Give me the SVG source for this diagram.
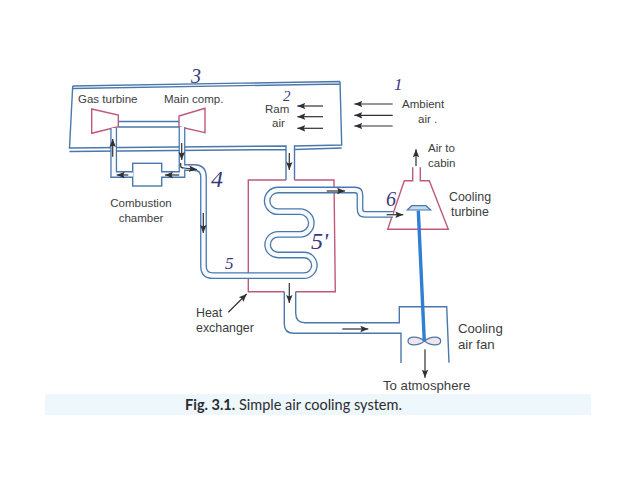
<svg xmlns="http://www.w3.org/2000/svg" width="638" height="478" viewBox="0 0 638 478">
<style>
.l{font-family:"Liberation Sans",Arial,sans-serif;font-size:11.5px;fill:#3c3c3e}
.g{font-size:12.4px}
.t{font-size:13.2px}
.m{text-anchor:middle}
.h{font-family:"Liberation Serif",serif;font-style:italic;fill:#38387e}
.cap{font-family:"Lato","Open Sans",sans-serif;font-size:14.5px;fill:#2c2c30}
.r{fill:none;stroke:#c0587c;stroke-width:1.4}
.b{fill:none;stroke:#4a78ac;stroke-width:1.4}
.po{fill:none;stroke:#4a78ac;stroke-width:6.8}
.pi{fill:none;stroke:#f8fbfd;stroke-width:4.2}
.a{fill:none;stroke:#303034;stroke-width:1.2;marker-end:url(#ah)}
</style>
<defs>
<marker id="ah" markerUnits="userSpaceOnUse" markerWidth="9" markerHeight="8" refX="8" refY="4" orient="auto"><path d="M0,0.8 L8,4 L0,7.2 L1.5,4 Z" fill="#303034"/></marker>
<path id="serp" d="M393,214.3 H365 Q360,214.3 360,209 V195 Q360,190 355,190 H278 A10.85,10.85 0 0 0 278,211.7 H300 A11.3,11.3 0 0 1 300,234.3 H278 A10.35,10.35 0 0 0 278,255 H304 A10.35,10.35 0 0 1 304,275.7 H213 Q203.5,275.7 203.5,266 V177 Q203.5,167.5 194,167.5 H182"/>
<path id="loop" d="M182,127 V174.5 H161 M113.7,128 V174.5 H133"/>
</defs>
<rect width="638" height="478" fill="#fff"/>
<rect x="45" y="394" width="546" height="21" fill="#eef7fb"/>

<g id="duct">
<path class="b" d="M72.7,86 L340,81.5 M72.7,88.5 L340,84 M340,81.5 L341.7,145 L294.5,146 V180 M72.7,86 L69.5,148 L286,146 V180 M69.5,151.5 L286,149.5 M294.5,149.5 L341.7,148"/>
</g>
<g id="gas-turbine"><polygon class="r" points="91.7,109 118.3,115 118.3,126.7 91.7,133.3"/></g>
<g id="main-compressor"><polygon class="r" points="179,116 205,108.3 205,132.7 179,126.7"/></g>
<g id="shaft"><path class="b" d="M118.3,121.5 H179 M118.3,127 H179"/></g>
<g id="heat-exchanger"><path class="r" d="M286,180 H248.3 V291.7 H284.3 M294.5,180 H334 L335.3,291.7 H295.7"/></g>
<g id="cooling-turbine"><path class="r" d="M412.7,167.3 V180.7 H404.3 L387.7,229.3 H448.3 L429.3,180.7 H420.3 V167.3"/><path d="M411.7,205.7 H426 L430.7,210 H407.3 Z" fill="#c4dcee" stroke="#4a78ac" stroke-width="1.2"/></g>
<g id="cooling-fan">
<path class="b" d="M284.3,291.7 V324 Q284.3,333.3 294,333.3 H401 V363 M295.7,291.7 V313 Q295.7,322.7 305,322.7 H399.3 V306.7 H446.7 L449,362.7"/>
<path d="M424.5,341 C418,335.5 408,336 408,341 C408,346 418,346.5 424.5,341 C431,335.5 440.7,336 440.7,341 C440.7,346 431,346.5 424.5,341 Z" fill="#f3e4ec" stroke="#4a78ac" stroke-width="1.2"/>
</g>
<g id="combustion-chamber"><rect class="r" style="stroke:#4a78ac" x="132.7" y="163.3" width="29" height="22.7"/></g>

<g id="connectors">
<use href="#serp" class="po"/><use href="#loop" class="po"/>
<use href="#serp" class="pi"/><use href="#loop" class="pi"/>
<path d="M418.3,210.7 L424.3,341" fill="none" stroke="#2f7fd2" stroke-width="3.4"/>
<path class="a" d="M323,106 H297.3"/><path class="a" d="M323,116.7 H297.3"/><path class="a" d="M323,128.3 H297.3"/>
<path class="a" d="M392.7,104 H354.3"/><path class="a" d="M392.7,115.3 H354.3"/><path class="a" d="M392.7,126 H354.3"/>
<path class="a" d="M112.7,156.7 V139"/><path class="a" d="M181.7,143 V160"/>
<path class="a" d="M128.3,175 H116.7"/><path class="a" d="M179.3,175 H165"/>
<path class="a" d="M180.7,163 V166 Q180.7,168 184,168 L197,169.5"/>
<path class="a" d="M203.3,213 V233"/><path class="a" d="M289.3,153 V170"/><path class="a" d="M289.3,283 V303"/>
<path class="a" d="M326.7,191 H345"/><path class="a" d="M386.7,214.7 H403.3"/><path class="a" d="M342.3,329 H368.3"/>
<path class="a" d="M425,349.3 V377.7"/><path class="a" d="M416,166 V149.3"/><path class="a" d="M228.3,312.3 L246.7,294"/>
</g>

<g id="labels">
<text class="l" x="78" y="103">Gas turbine</text>
<text class="l" x="164" y="103">Main comp.</text>
<text class="l" x="265" y="113">Ram</text>
<text class="l" x="272" y="127">air</text>
<text class="l" x="402" y="108">Ambient</text>
<text class="l" x="418" y="123">air  .</text>
<text class="l" x="428" y="152">Air to</text>
<text class="l" x="428" y="167">cabin</text>
<text class="l g" x="449" y="201">Cooling</text>
<text class="l g" x="451" y="216">turbine</text>
<text class="l m" x="141" y="207">Combustion</text>
<text class="l m" x="141" y="222">chamber</text>
<text class="l g" x="196" y="317">Heat</text>
<text class="l g" x="196" y="332">exchanger</text>
<text class="l t" x="458" y="333">Cooling</text>
<text class="l t" x="458" y="349">air fan</text>
<text class="l t" x="383" y="390">To atmosphere</text>
<text class="cap" x="185" y="410"><tspan font-weight="700">Fig. 3.1.</tspan> Simple air cooling system.</text>
<text class="h" x="191" y="83" font-size="20">3</text>
<text class="h" x="283" y="101" font-size="15">2</text>
<text class="h" x="394" y="90" font-size="17">1</text>
<text class="h" x="211" y="187" font-size="24">4</text>
<text class="h" x="225" y="269" font-size="17">5</text>
<text class="h" x="311" y="249" font-size="24">5'</text>
<text class="h" x="386" y="206" font-size="20">6</text>
</g>
</svg>
